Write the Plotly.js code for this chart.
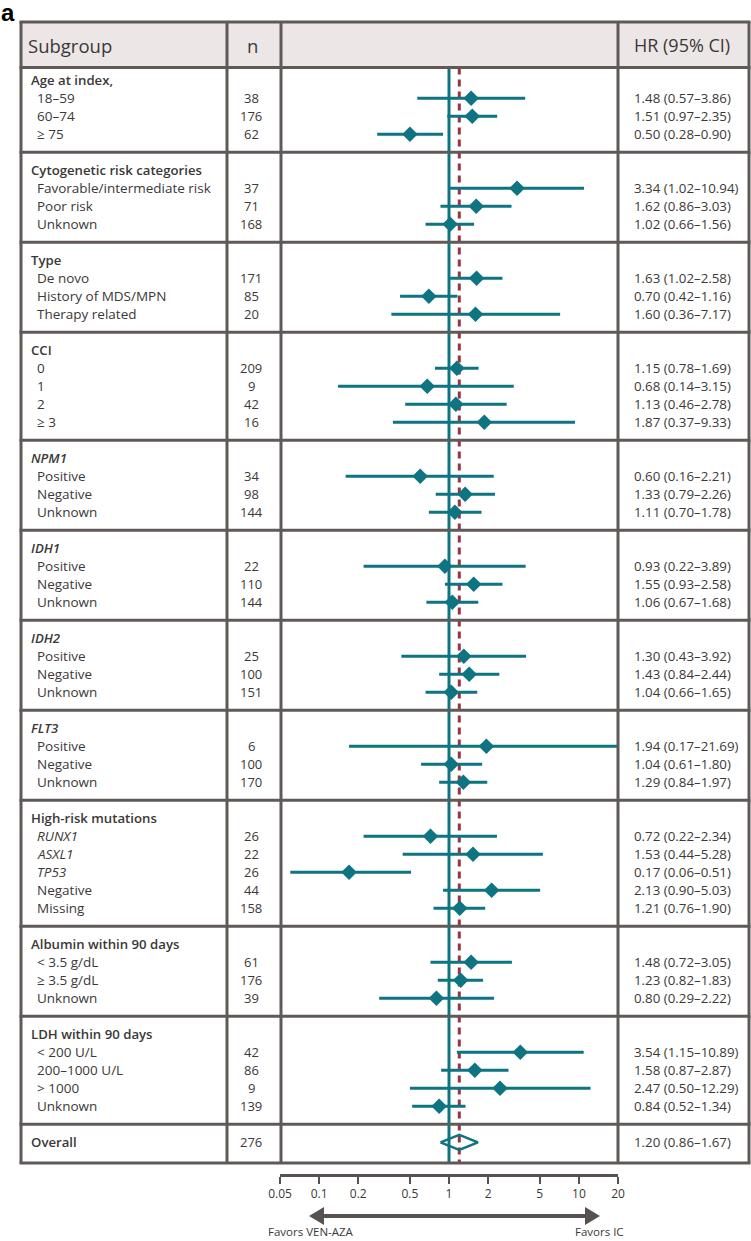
<!DOCTYPE html>
<html><head><meta charset="utf-8">
<script src="https://cdn.plot.ly/plotly-3.0.1.min.js"></script>
<style>html,body{margin:0;padding:0;background:#fff}#chart{width:751px;height:1241px}</style>
</head><body><div id="chart"></div>
<script>
// ---------------- DATA ----------------
const sectionTitles = ["Age at index,", "Cytogenetic risk categories", "Type", "CCI", "NPM1", "IDH1", "IDH2", "FLT3",
  "High-risk mutations", "Albumin within 90 days", "LDH within 90 days"];
const sectionItalic = [false, false, false, false, true, true, true, true, false, false, false];
const sectionSizes = [3, 3, 3, 4, 3, 3, 3, 3, 5, 3, 4];
const subgroupLabels = [
  "18–59", "60–74", "≥ 75",
  "Favorable/intermediate risk", "Poor risk", "Unknown",
  "De novo", "History of MDS/MPN", "Therapy related",
  "0", "1", "2", "≥ 3",
  "Positive", "Negative", "Unknown",
  "Positive", "Negative", "Unknown",
  "Positive", "Negative", "Unknown",
  "Positive", "Negative", "Unknown",
  "RUNX1", "ASXL1", "TP53", "Negative", "Missing",
  "< 3.5 g/dL", "≥ 3.5 g/dL", "Unknown",
  "< 200 U/L", "200–1000 U/L", "> 1000", "Unknown"
];
const italicLabels = ["RUNX1", "ASXL1", "TP53"];
const nValues = [38, 176, 62, 37, 71, 168, 171, 85, 20, 209, 9, 42, 16, 34, 98, 144, 22, 110, 144,
  25, 100, 151, 6, 100, 170, 26, 22, 26, 44, 158, 61, 176, 39, 42, 86, 9, 139];
const hrValues = [1.48, 1.51, 0.50, 3.34, 1.62, 1.02, 1.63, 0.70, 1.60, 1.15, 0.68, 1.13, 1.87, 0.60, 1.33, 1.11,
  0.93, 1.55, 1.06, 1.30, 1.43, 1.04, 1.94, 1.04, 1.29, 0.72, 1.53, 0.17, 2.13, 1.21, 1.48, 1.23, 0.80,
  3.54, 1.58, 2.47, 0.84];
const ciLower = [0.57, 0.97, 0.28, 1.02, 0.86, 0.66, 1.02, 0.42, 0.36, 0.78, 0.14, 0.46, 0.37, 0.16, 0.79, 0.70,
  0.22, 0.93, 0.67, 0.43, 0.84, 0.66, 0.17, 0.61, 0.84, 0.22, 0.44, 0.06, 0.90, 0.76, 0.72, 0.82, 0.29,
  1.15, 0.87, 0.50, 0.52];
const ciUpper = [3.86, 2.35, 0.90, 10.94, 3.03, 1.56, 2.58, 1.16, 7.17, 1.69, 3.15, 2.78, 9.33, 2.21, 2.26, 1.78,
  3.89, 2.58, 1.68, 3.92, 2.44, 1.65, 21.69, 1.80, 1.97, 2.34, 5.28, 0.51, 5.03, 1.90, 3.05, 1.83, 2.22,
  10.89, 2.87, 12.29, 1.34];
const overallLabel = "Overall";
const overallN = [276];
const overallHR = [1.20];
const overallLower = [0.86];
const overallUpper = [1.67];
const tickValues = [0.05, 0.1, 0.2, 0.5, 1, 2, 5, 10, 20];
const tickLabels = ["0.05", "0.1", "0.2", "0.5", "1", "2", "5", "10", "20"];
const headerLabels = ["Subgroup", "n", "HR (95% CI)"];
const favorLabels = ["Favors VEN-AZA", "Favors IC"];
const panelLabel = "a";

// ---------------- GEOMETRY / STYLE ----------------
const W = 751, H = 1241, PL = 280, PR = 618;
const ROW0 = 80.3, ROWH = 18;
const r = py => (py - ROW0) / ROWH;          // pixel y -> row units
const px = x => (x - PL) / (PR - PL);        // pixel x -> paper x
const TEAL = "#0f7482", RED = "#9c3340", BORDER = "#5f5a58", TXT = "#3b3838", ARROW = "#575251";
const FONT = "Open Sans";
const fs = 13;

// rows
const titleRows = [], itemRows = [], boundaryRows = [];
let row = 0;
sectionSizes.forEach((n, s) => {
  titleRows.push(row);
  for (let i = 1; i <= n; i++) itemRows.push(row + i);
  row += n + 1;
  boundaryRows.push(row);
  row += 1;
});
const overallRow = row;

const annotations = [];
const A = (x, y, text, anchor, size, weight, family) => annotations.push({
  xref: "paper", yref: "y", x: x, y: y, text: text, xanchor: anchor, yanchor: "middle",
  showarrow: false, borderpad: 0, borderwidth: 0,
  font: {family: family || FONT, size: size || fs, color: TXT, weight: weight || 400}
});

// header
A(px(28), r(45), headerLabels[0], "left", 18.5);
A(px(252), r(45), headerLabels[1], "center", 18.5);
A(px(634), r(45), headerLabels[2], "left", 18);

sectionTitles.forEach((t, s) => {
  const txt = sectionItalic[s] ? "<i>" + t + "</i>" : t;
  A(px(31), titleRows[s], txt, "left", 13.2, 600);
});
const fmt = v => v.toFixed(2);
subgroupLabels.forEach((t, i) => {
  const txt = italicLabels.includes(t) ? "<i>" + t + "</i>" : t;
  A(px(37), itemRows[i], txt, "left", 13.5);
  A(px(251), itemRows[i], String(nValues[i]), "center", 13);
  A(px(634), itemRows[i], fmt(hrValues[i]) + " (" + fmt(ciLower[i]) + "–" + fmt(ciUpper[i]) + ")", "left", 13.3);
});
A(px(31), overallRow, overallLabel, "left", 13.2, 600);
A(px(251), overallRow, String(overallN[0]), "center", 13);
A(px(634), overallRow, fmt(overallHR[0]) + " (" + fmt(overallLower[0]) + "–" + fmt(overallUpper[0]) + ")", "left", 13.3);

A(px(311), r(1231.5), favorLabels[0], "center", 11.5);
A(px(599), r(1231.5), favorLabels[1], "center", 11.5);
annotations.push({xref: "paper", yref: "y", x: px(8), y: r(12), text: "<b>" + panelLabel + "</b>",
  xanchor: "center", yanchor: "middle", showarrow: false,
  font: {family: "Liberation Sans", size: 24, color: "#000"}});

// shapes
const shapes = [];
const tableTop = r(22), headBot = r(67.5), tableBot = r(1163);
shapes.push({type: "line", xref: "x", yref: "y", x0: 1, x1: 1, y0: headBot, y1: tableBot,
  line: {color: TEAL, width: 3}, layer: "below"});
shapes.push({type: "line", xref: "x", yref: "y", x0: overallHR[0], x1: overallHR[0], y0: headBot, y1: tableBot,
  line: {color: RED, width: 3, dash: "7px,5px"}, layer: "below"});
shapes.push({type: "rect", xref: "paper", yref: "y", x0: px(21), x1: px(749), y0: tableTop, y1: headBot,
  fillcolor: "#ece6e6", line: {width: 0}, layer: "below"});
const L = (x0, y0, x1, y1) => shapes.push({type: "line", xref: "paper", yref: "y", x0: x0, x1: x1, y0: y0, y1: y1,
  line: {color: BORDER, width: 3}, layer: "above"});
L(px(19.5), tableTop, px(750.5), tableTop);
L(px(19.5), headBot, px(750.5), headBot);
boundaryRows.forEach(b => L(px(19.5), b, px(750.5), b));
L(px(19.5), tableBot, px(750.5), tableBot);
[21, 227, 281, 618, 749].forEach(x => L(px(x), tableTop, px(x), tableBot));
// arrow
const ay = r(1216);
shapes.push({type: "line", xref: "paper", yref: "y", x0: px(320), x1: px(589), y0: ay, y1: ay,
  line: {color: ARROW, width: 4}});
const tri = (tip, base) => "M" + px(tip) + "," + ay + " L" + px(base) + "," + r(1207) + " L" + px(base) + "," + r(1225) + " Z";
shapes.push({type: "path", xref: "paper", yref: "y", path: tri(309, 324), fillcolor: ARROW, line: {width: 0}});
shapes.push({type: "path", xref: "paper", yref: "y", path: tri(600, 585), fillcolor: ARROW, line: {width: 0}});

// traces
const points = {
  type: "scatter", mode: "markers", x: hrValues, y: itemRows,
  marker: {symbol: "diamond", size: 12, color: TEAL, line: {width: 0}},
  error_x: {type: "data", symmetric: false, array: hrValues.map((h, i) => ciUpper[i] - h),
    arrayminus: hrValues.map((h, i) => h - ciLower[i]), thickness: 3, width: 0, color: TEAL},
  hoverinfo: "skip"
};
const dh = 0.42;
const overallDiamond = {
  type: "scatter", mode: "lines",
  x: [overallLower[0], overallHR[0], overallUpper[0], overallHR[0], overallLower[0]],
  y: [overallRow, overallRow - dh, overallRow, overallRow + dh, overallRow],
  line: {color: TEAL, width: 2.5}, hoverinfo: "skip"
};

const layout = {
  width: W, height: H, margin: {l: PL, r: W - PR, t: 0, b: 0, pad: 0},
  paper_bgcolor: "#fff", plot_bgcolor: "rgba(0,0,0,0)", showlegend: false,
  xaxis: {type: "log", range: [Math.log10(0.05), Math.log10(20)], anchor: "free", position: (H - 1175) / H,
    tickmode: "array", tickvals: tickValues, ticktext: tickLabels, ticks: "outside", ticklen: 7, tickwidth: 2.5,
    tickcolor: ARROW, showline: true, linewidth: 3, linecolor: ARROW, showgrid: false, zeroline: false,
    tickfont: {family: FONT, size: 12, color: TXT}, fixedrange: true},
  yaxis: {visible: false, range: [r(H), r(0)], showgrid: false, zeroline: false, fixedrange: true},
  shapes: shapes, annotations: annotations
};
Plotly.newPlot("chart", [points, overallDiamond], layout, {displayModeBar: false, staticPlot: true});
</script></body></html>
